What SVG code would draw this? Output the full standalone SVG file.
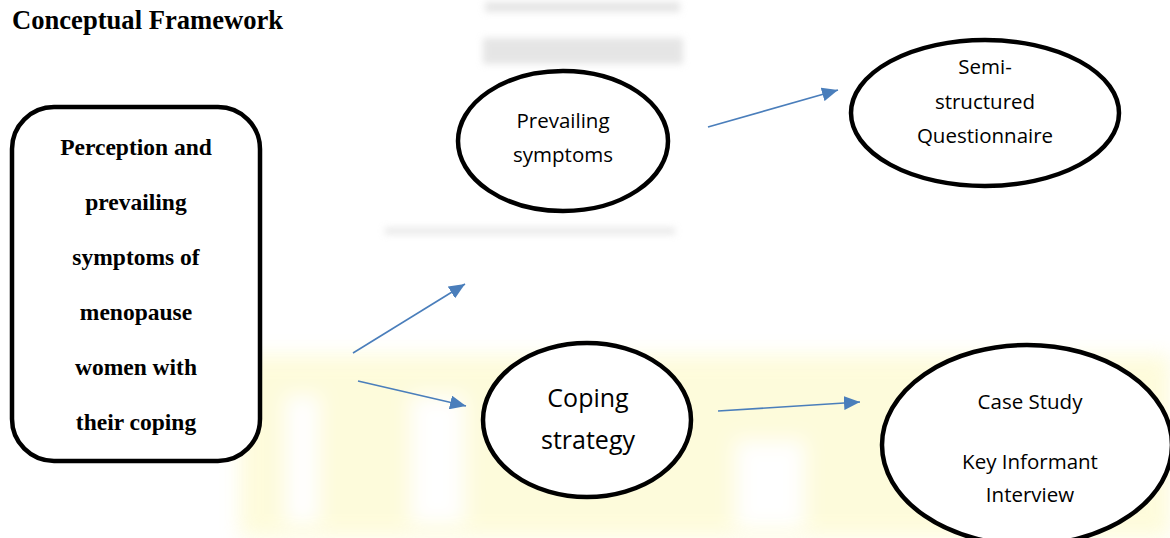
<svg xmlns="http://www.w3.org/2000/svg" width="1170" height="538" viewBox="0 0 1170 538">
<style>
.title{font-family:"Liberation Serif","Times New Roman",serif;font-weight:bold;font-size:26.6px;fill:#000}
.bold{font-family:"Liberation Serif","Times New Roman",serif;font-weight:bold;font-size:23.5px;fill:#000;text-anchor:middle}
.lbl{font-family:"Open Sans","Noto Sans",sans-serif;font-size:20.5px;fill:#000;text-anchor:middle}
.big{font-size:25px}
.node{fill:#fff;stroke:#000;stroke-width:4.5}
.conn{stroke:#4a7ebb;stroke-width:1.6;fill:none;marker-end:url(#ah)}
</style>
<defs>
<marker id="ah" markerUnits="userSpaceOnUse" markerWidth="18" markerHeight="14" refX="16" refY="7" orient="auto">
<path d="M0,0 L16,7 L0,14 Z" fill="#4a7ebb"/>
</marker>
<filter id="blur" x="-20%" y="-50%" width="140%" height="200%"><feGaussianBlur stdDeviation="10"/></filter>
<filter id="blur2" x="-20%" y="-100%" width="140%" height="300%"><feGaussianBlur stdDeviation="3.5"/></filter>
</defs>
<rect width="1170" height="538" fill="#fff"/>
<g id="watermark">
<g opacity="0.35">
<rect x="240" y="355" width="930" height="183" fill="#fcf59a" filter="url(#blur)"/>
<g fill="#fff" filter="url(#blur)">
<rect x="285" y="395" width="35" height="130"/>
<rect x="410" y="395" width="55" height="130"/>
<rect x="735" y="440" width="70" height="90"/>
</g>
</g>
<g fill="#ccc" opacity="0.5" filter="url(#blur2)">
<rect x="485" y="2" width="195" height="10"/>
<rect x="483" y="38" width="200" height="26"/>
<rect x="385" y="228" width="290" height="6"/>
</g>
</g>
<text class="title" x="12" y="29">Conceptual Framework</text>
<g id="n-perception">
<rect class="node" x="12" y="107" width="248" height="354" rx="42" ry="42"/>
<text class="bold" x="136" y="155">Perception and</text>
<text class="bold" x="136" y="210">prevailing</text>
<text class="bold" x="136" y="265">symptoms of</text>
<text class="bold" x="136" y="320">menopause</text>
<text class="bold" x="136" y="375">women with</text>
<text class="bold" x="136" y="430">their coping</text>
</g>
<g id="n-prevailing">
<ellipse class="node" cx="563" cy="141" rx="105" ry="70"/>
<text class="lbl" x="563" y="128">Prevailing</text>
<text class="lbl" x="563" y="162">symptoms</text>
</g>
<g id="n-semi">
<ellipse class="node" cx="985" cy="113" rx="134" ry="73"/>
<text class="lbl" x="985" y="74">Semi-</text>
<text class="lbl" x="985" y="109">structured</text>
<text class="lbl" x="985" y="143">Questionnaire</text>
</g>
<g id="n-coping">
<ellipse class="node" cx="587" cy="420" rx="104" ry="77"/>
<text class="lbl big" x="588" y="407">Coping</text>
<text class="lbl big" x="588" y="449">strategy</text>
</g>
<g id="n-case">
<ellipse class="node" cx="1027" cy="445" rx="145" ry="100"/>
<text class="lbl" x="1030" y="409">Case Study</text>
<text class="lbl" x="1030" y="469">Key Informant</text>
<text class="lbl" x="1030" y="502">Interview</text>
</g>
<g id="connectors">
<line class="conn" x1="353" y1="353" x2="465" y2="284"/>
<line class="conn" x1="358" y1="381" x2="466" y2="406"/>
<line class="conn" x1="708" y1="127" x2="838" y2="90"/>
<line class="conn" x1="718" y1="411" x2="860" y2="402"/>
</g>
</svg>
